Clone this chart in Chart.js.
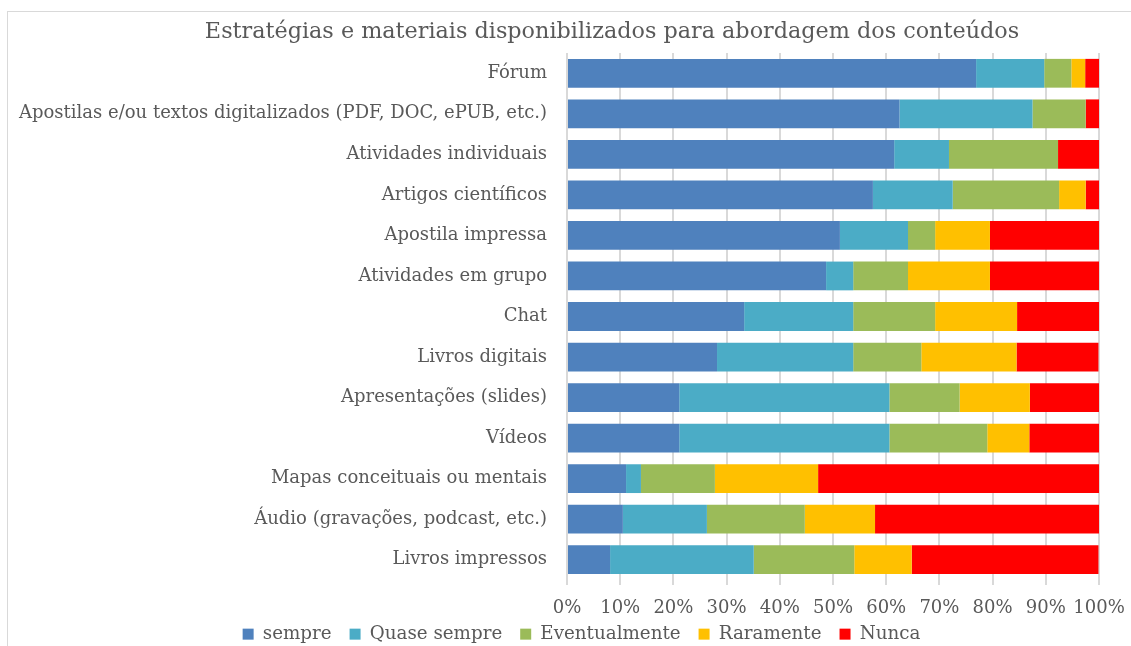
<!DOCTYPE html>
<html>
<head>
<meta charset="utf-8">
<script src="https://cdn.jsdelivr.net/npm/chart.js@4/dist/chart.umd.min.js"></script>
<style>
  html, body { margin: 0; padding: 0; background: #fff; }
  #wrap { position: relative; width: 1131px; height: 646px; overflow: hidden; }
  #frame { position: absolute; left: 7px; top: 11px; width: 1200px; height: 700px; border: 1px solid #d9d9d9; box-sizing: border-box; }
  canvas { position: absolute; left: 0; top: 0; }
</style>
</head>
<body>
<div id="wrap">
  <div id="frame"></div>
  <canvas id="chart" width="1131" height="646"></canvas>
</div>
<script>
const chartTitle = "Estratégias e materiais disponibilizados para abordagem dos conteúdos"

const categories = [
  "Fórum",
  "Apostilas e/ou textos digitalizados (PDF, DOC, ePUB, etc.)",
  "Atividades individuais",
  "Artigos científicos",
  "Apostila impressa",
  "Atividades em grupo",
  "Chat",
  "Livros digitais",
  "Apresentações (slides)",
  "Vídeos",
  "Mapas conceituais ou mentais",
  "Áudio (gravações, podcast, etc.)",
  "Livros impressos"
]

// percentages
const sempre        = [76.9, 62.5, 61.5, 57.5, 51.3, 48.7, 33.3, 28.2, 21.1, 21.1, 11.1, 10.5, 8.1]
const quaseSempre   = [12.8, 25.0, 10.3, 15.0, 12.8,  5.1, 20.5, 25.6, 39.5, 39.5,  2.8, 15.8, 27.0]
const eventualmente = [ 5.1, 10.0, 20.5, 20.0,  5.1, 10.3, 15.4, 12.8, 13.2, 18.4, 13.9, 18.4, 18.9]
const raramente     = [ 2.6,  0.0,  0.0,  5.0, 10.3, 15.4, 15.4, 17.9, 13.2,  7.9, 19.4, 13.2, 10.8]
const nunca         = [ 2.6,  2.5,  7.7,  2.5, 20.5, 20.5, 15.4, 15.4, 13.2, 13.2, 52.8, 42.1, 35.1]

const xTicks = [0, 10, 20, 30, 40, 50, 60, 70, 80, 90, 100]

const fontFamily = "'DejaVu Serif', serif"
const textColor = "#595959"

const series = [
  { label: "sempre", data: sempre, color: "#4F81BD" },
  { label: "Quase sempre", data: quaseSempre, color: "#4BACC6" },
  { label: "Eventualmente", data: eventualmente, color: "#9BBB59" },
  { label: "Raramente", data: raramente, color: "#FFC000" },
  { label: "Nunca", data: nunca, color: "#FF0000" }
]

// title sits over the plot, not the canvas centre, so draw it by hand
// and move the legend box a bit right / down like in the original
const tweaks = {
  id: "tweaks",
  afterLayout(chart) {
    const lg = chart.legend
    lg.left += 32
    lg.right += 32
    lg.top = 607
    lg.bottom = 646
    lg.height = lg.bottom - lg.top
  },
  afterDraw(chart) {
    const ctx = chart.ctx
    ctx.save()
    ctx.font = "22.3px " + fontFamily
    ctx.fillStyle = textColor
    ctx.textAlign = "center"
    ctx.textBaseline = "middle"
    ctx.fillText(chartTitle, 612, 32)
    ctx.restore()
  }
}

new Chart(document.getElementById("chart"), {
  type: "bar",
  data: {
    labels: categories,
    datasets: series.map(s => ({
      label: s.label,
      data: s.data,
      backgroundColor: s.color,
      borderWidth: 0,
      barPercentage: 0.71,
      categoryPercentage: 1.0
    }))
  },
  plugins: [tweaks],
  options: {
    indexAxis: "y",
    responsive: false,
    animation: false,
    layout: { padding: { left: 0, right: 32, top: 53, bottom: 0 } },
    plugins: {
      title: { display: false },
      legend: {
        position: "bottom",
        maxHeight: 26,
        labels: {
          color: textColor,
          font: { family: fontFamily, size: 18.3 },
          boxWidth: 11,
          boxHeight: 11,
          padding: 18
        }
      },
      tooltip: { enabled: false }
    },
    scales: {
      x: {
        stacked: true,
        min: 0,
        max: 100,
        afterBuildTicks: (scale) => {
          scale.ticks = xTicks.map(v => ({ value: v }))
        },
        afterFit: (scale) => {
          scale.height = 40
          scale.paddingLeft = 0
          scale.paddingRight = 0
        },
        ticks: {
          color: textColor,
          font: { family: fontFamily, size: 18 },
          padding: 13,
          autoSkip: false,
          maxRotation: 0,
          callback: (value) => value + "%"
        },
        grid: {
          color: "#d9d9d9",
          lineWidth: 2,
          tickLength: 5,
          drawTicks: true
        },
        border: { display: false }
      },
      y: {
        stacked: true,
        afterFit: (scale) => { scale.width = 567 },
        ticks: {
          color: textColor,
          font: { family: fontFamily, size: 18 },
          padding: 20
        },
        grid: { display: false, drawTicks: false },
        border: { color: "#d9d9d9", width: 1 }
      }
    }
  }
})
</script>
</body>
</html>
